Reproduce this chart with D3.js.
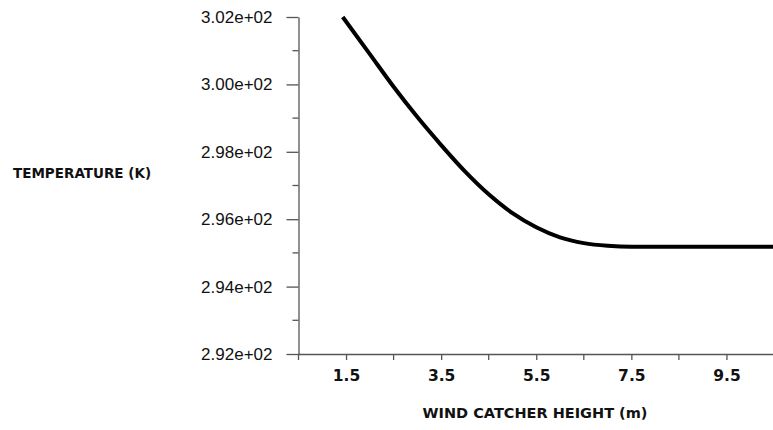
<!DOCTYPE html>
<html><head><meta charset="utf-8">
<script src="https://cdn.jsdelivr.net/npm/d3@7"></script>
<style>body{margin:0;background:#fff}svg{display:block}</style>
</head><body>
<script>
const heights = [1.43, 2.0, 2.5, 3.0, 3.5, 4.0, 4.5, 5.0, 5.5, 6.0, 6.5, 7.0, 7.5, 8.0, 9.0, 10.0, 10.5];
const temperature = [302.0, 300.9, 299.93, 299.03, 298.2, 297.42, 296.74, 296.18, 295.76, 295.46, 295.29, 295.21, 295.18, 295.18, 295.18, 295.18, 295.18];
const xTickLabels = [1.5, 3.5, 5.5, 7.5, 9.5];
const xMinorTicks = [0.5, 2.5, 4.5, 6.5, 8.5, 10.5];
const yTickLabels = [292, 294, 296, 298, 300, 302];
const yMinorTicks = [293, 295, 297, 299, 301];
const xTitle = "WIND CATCHER HEIGHT (m)";
const yTitle = "TEMPERATURE (K)";

const W = 773, H = 430;
const svg = d3.select("body").append("svg").attr("width", W).attr("height", H);
const x = d3.scaleLinear().domain([0.5, 10.5]).range([298.5, 774]);
const y = d3.scaleLinear().domain([292, 302]).range([354, 17]);
const axisColor = "#555";

// y axis
const gy = svg.append("g").attr("transform", `translate(${x.range()[0]},0)`);
gy.call(d3.axisLeft(y).tickValues(yTickLabels).tickSize(12).tickSizeOuter(0)
  .tickFormat(d => d3.format(".2e")(d).replace(/e\+(\d)$/, "e+0$1")));
gy.append("g").selectAll("line").data(yMinorTicks).join("line")
  .attr("x1", -6).attr("x2", 0).attr("y1", d => y(d)).attr("y2", d => y(d));
gy.selectAll("line, path").attr("stroke", axisColor).attr("stroke-width", 1.3);
gy.selectAll("text").attr("font-family", "Liberation Sans, Arial, sans-serif")
  .attr("font-size", 17).attr("fill", "#111").attr("x", -26);

// x axis
const gx = svg.append("g").attr("transform", `translate(0,${y.range()[0]})`);
gx.call(d3.axisBottom(x).tickValues(xTickLabels).tickSize(6).tickSizeOuter(0).tickFormat(d3.format(".1f")));
gx.append("g").selectAll("line").data(xMinorTicks).join("line")
  .attr("x1", d => x(d)).attr("x2", d => x(d)).attr("y1", 0).attr("y2", 6);
gx.selectAll("line, path").attr("stroke", axisColor).attr("stroke-width", 1.3);
gx.selectAll("text").attr("font-family", "DejaVu Sans, sans-serif").attr("font-weight", "bold")
  .attr("font-size", 15.5).attr("fill", "#111").attr("y", 16);

// line
svg.append("path").datum(heights.map((h, i) => [h, temperature[i]]))
  .attr("fill", "none").attr("stroke", "#000").attr("stroke-width", 4)
  .attr("stroke-linecap", "butt")
  .attr("d", d3.line().x(d => x(d[0])).y(d => y(d[1])).curve(d3.curveMonotoneX));

// titles
svg.append("text").attr("x", 535).attr("y", 418).attr("text-anchor", "middle")
  .attr("font-family", "DejaVu Sans, sans-serif").attr("font-weight", "bold")
  .attr("font-size", 14.5).attr("fill", "#111").text(xTitle);
svg.append("text").attr("x", 13).attr("y", 178)
  .attr("font-family", "DejaVu Sans, sans-serif").attr("font-weight", "bold")
  .attr("font-size", 13.5).attr("fill", "#111").text(yTitle);
</script>
</body></html>
